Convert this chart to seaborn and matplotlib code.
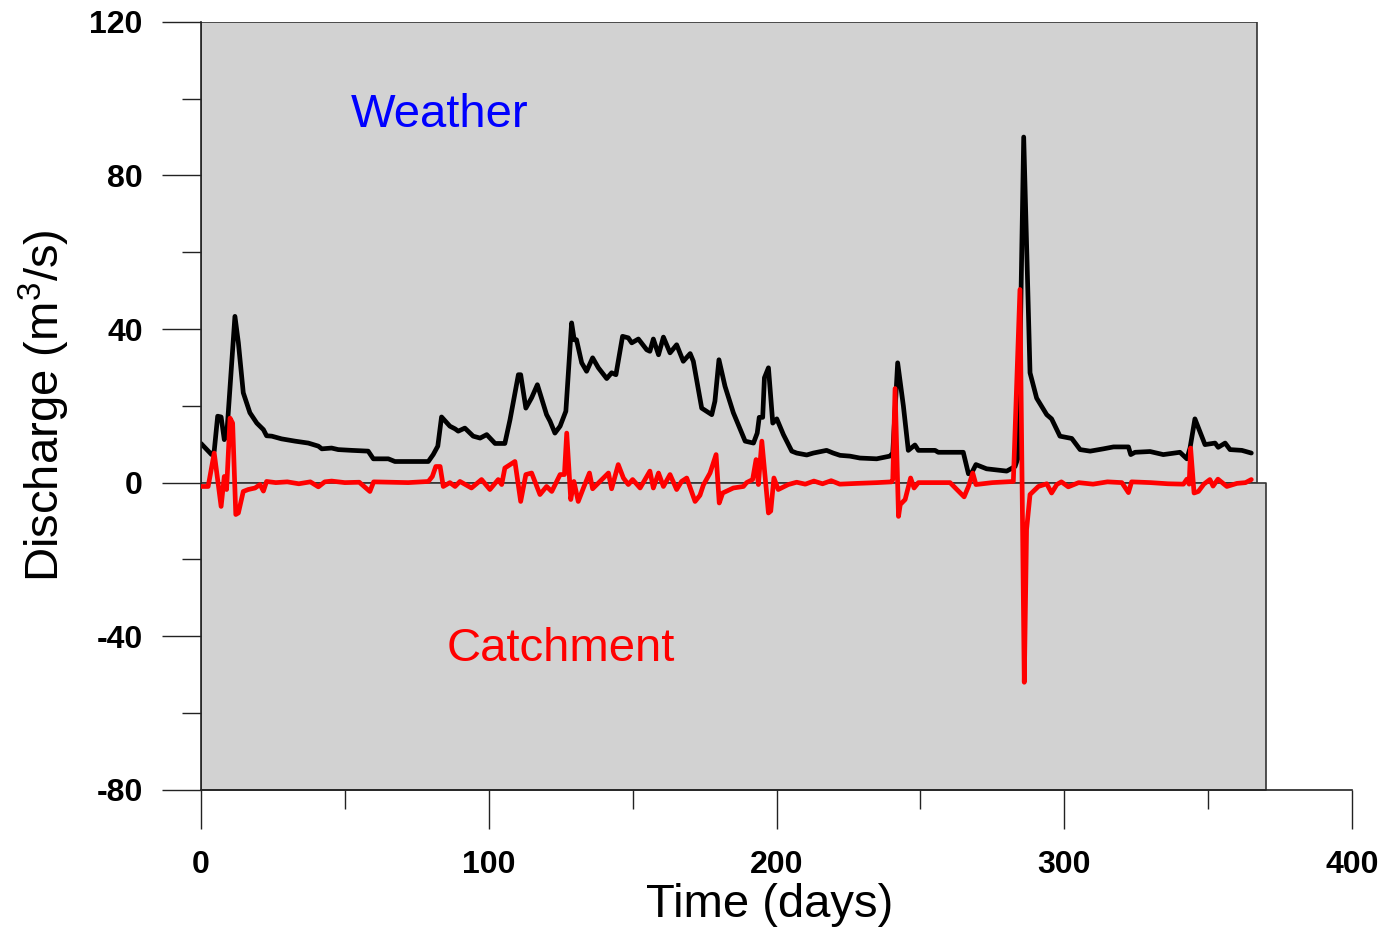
import numpy as np
import pandas as pd
import matplotlib
matplotlib.use("Agg")
import matplotlib.pyplot as plt
import seaborn as sns

# ---------------------------------------------------------------------
# data
# ---------------------------------------------------------------------
weather_day = [0, 3.7, 4.6, 5.8, 7, 8.1, 9, 11.8, 13, 14.7, 17, 19.4, 21.7, 22.8,
               24.6, 28, 32.7, 37.3, 40.8, 42, 45.4, 47.7, 52.4, 58.1, 59.9, 65.1,
               67.4, 79, 80.7, 82.3, 83.6, 86.5, 88.3, 89.4, 91.7, 94.6, 97, 99.3,
               102.2, 105.6, 107.4, 110.3, 111.1, 112.9, 114.9, 116.9, 120.1, 121.3,
               123, 124.8, 126.8, 128.8, 129.7, 130.5, 132.3, 134, 136.1, 138.1, 141,
               142.7, 144.2, 146.5, 148.5, 149.7, 152, 154.9, 156, 157.2, 159, 160.7,
               163, 165.3, 167.6, 170, 171.1, 174, 177.5, 178.6, 180, 182.1, 185,
               189.1, 192, 193.3, 194, 195.2, 195.8, 197.2, 198.7, 200.1, 202.4,
               205.3, 207, 210.5, 212.8, 217.4, 219.7, 222.1, 225.5, 229, 234.8,
               239.4, 240.4, 242.1, 244.1, 245.8, 248.1, 249.3, 255.1, 256.2, 264.9,
               266.7, 267.8, 269.3, 273, 280, 282.9, 284, 285.9, 288.1, 290.4, 293.9,
               295.6, 298.5, 302.6, 305.5, 309, 313.6, 317.1, 322.3, 323.1, 324.6,
               329.8, 334.4, 340.2, 342.6, 343.7, 345.4, 348.9, 352.4, 353.5, 355.9,
               357.6, 361.7, 365]
weather_q = [10.2, 7.3, 8.2, 17.3, 17.1, 11.2, 12.9, 43.3, 36.4, 23.4, 18.2, 15.5, 13.8,
             12.2, 12.1, 11.4, 10.8, 10.3, 9.5, 8.8, 9.0, 8.6, 8.4, 8.2, 6.2, 6.2,
             5.5, 5.5, 7.3, 9.5, 17.1, 14.7, 14.0, 13.4, 14.2, 12.1, 11.6, 12.5,
             10.2, 10.2, 16.4, 28.1, 28.1, 19.4, 22.1, 25.5, 17.7, 16.0,
             12.9, 14.7, 18.6, 41.6, 37.2, 37.2, 31.2, 29.0, 32.5, 29.9, 27.1,
             28.6, 28.1, 38.1, 37.7, 36.4, 37.4, 34.6, 34.2, 37.4, 33.3, 37.9,
             33.8, 35.9, 31.6, 33.6, 31.6, 19.4, 17.7, 21.2, 32.0, 25.1, 18.2,
             10.8, 10.3, 12.9, 17.0, 17.0, 27.3, 29.9, 15.5, 16.6, 12.5,
             8.2, 7.7, 7.2, 7.7, 8.4, 7.7, 7.1, 6.9, 6.4, 6.2,
             6.9, 7.7, 31.2, 19.9, 8.4, 9.8, 8.4, 8.4, 7.9, 7.9,
             2.3, 2.5, 4.7, 3.6, 3.0, 4.2, 6.6, 90.0, 28.6, 22.0, 17.7,
             16.6, 12.1, 11.5, 8.6, 8.2, 8.8, 9.3, 9.3, 7.3, 7.9,
             8.1, 7.3, 7.9, 6.2, 9.0, 16.6, 9.9, 10.3, 9.2, 10.3,
             8.6, 8.4, 7.7]

catchment_day = [0, 2.5, 4.6, 7, 8.1, 8.9, 10.1, 11, 12.1, 13, 14.7, 16.4, 18.8, 20.5,
                 21.7, 22.8, 26, 30, 34, 38, 40.8, 43, 45.4, 50, 55, 58.7, 60, 66, 72,
                 79, 80.4, 81.6, 83.1, 84.2, 86.5, 88.3, 90, 94, 97.5, 100.4, 103.3,
                 104.5, 105.6, 109.1, 111.1, 112.9, 114.9, 117.8, 120.1, 121.9, 124.8,
                 126.3, 127.1, 128.5, 129.6, 131.1, 132.9, 135, 136.1, 138.4, 141.6,
                 142.7, 145, 146.8, 148.5, 150, 152.6, 156, 157.2, 159, 160.7, 163,
                 165.3, 167, 168.8, 171.7, 173.4, 174.6, 176.9, 179, 180.1, 181.3, 185,
                 188.5, 189.6, 191.7, 192.9, 193.7, 194.9, 197.2, 198, 199.1, 200.6,
                 204.1, 207, 210, 213, 216, 219, 222, 228, 235, 240, 240.4, 241.2,
                 242.4, 243, 244.7, 246.6, 247.8, 249.3, 255, 260.3, 265.2, 266.7,
                 268.2, 269.3, 275, 282.3, 284.6, 286.1, 286.9, 288.1, 291, 293.9,
                 295.6, 297.4, 299, 301.4, 305, 310, 315, 320, 322.3, 323.4, 330, 336,
                 341.4, 342.6, 343.4, 343.9, 345.1, 346.6, 348.5, 350.6, 351.7, 353.4,
                 356.5, 360, 363, 365]
catchment_q = [-1, -1, 7.7, -6.2, 1.6, -1.8, 16.8, 15.5, -8.3, -7.9, -2.3, -1.8, -1.4, -0.5,
               -2.2, 0.3, 0, 0.2, -0.3, 0.2, -1.1, 0.2, 0.4, 0, 0.1, -2.3, 0.2, 0.1, 0,
               0.3, 1.6, 4.2, 4.2, -1, 0, -1, 0.3, -1.4, 0.8, -1.8, 0.8,
               -0.5, 3.8, 5.5, -4.9, 2.1, 2.5, -3.1, -1, -2.3, 2.1,
               2.1, 12.9, -4.4, 0.3, -4.9, -1.4, 2.5, -1.6, 0.1, 2.5,
               -1.6, 4.7, 1.2, -0.5, 0.8, -1.4, 3.0, -1.4, 2.5, -1, 2.1,
               -1.8, 0.3, 1.2, -4.9, -3.3, -0.6, 2.5, 7.3, -5.3, -2.7, -1.4,
               -1, 0, 0.8, 6, -0.5, 10.8, -7.9, -7.4, 1.2, -1.8,
               -0.5, 0.1, -0.4, 0.4, -0.3, 0.5, -0.4, -0.2, 0, 0.2, 0.8, 24.5,
               -8.8, -5.7, -4.4, 1.2, -1.4, 0, 0, 0, -3.7, -1,
               2.5, -0.5, 0, 0.3, 50.3, -52, -12.2, -3.1, -1, -0.3,
               -2.7, -0.5, 0.2, -1.1, 0, -0.4, 0.2, 0, -2.6, 0.2, 0, -0.3,
               -0.4, 0.9, -0.4, 9, -2.7, -2.3, -0.4, 0.8, -0.9, 0.9,
               -1, -0.2, 0, 0.8]

# shaded regions (day span, discharge span)
weather_span = [0, 367]
weather_band = [0, 120]
catchment_span = [0, 370]
catchment_band = [-80, 0]

df_w = pd.DataFrame({"day": weather_day, "q": weather_q})
df_c = pd.DataFrame({"day": catchment_day, "q": catchment_q})

# ---------------------------------------------------------------------
# plot
# ---------------------------------------------------------------------
sns.set_style("ticks")
plt.rcParams["font.family"] = ["Liberation Sans", "DejaVu Sans"]
plt.rcParams["mathtext.default"] = "regular"
plt.rcParams["axes.unicode_minus"] = False
plt.rcParams["text.color"] = "black"
plt.rcParams["axes.labelcolor"] = "black"
plt.rcParams["xtick.color"] = "black"
plt.rcParams["ytick.color"] = "black"

fig = plt.figure(figsize=(13.86, 9.38), dpi=100)
ax = fig.add_axes([0.145, 0.158, 0.8305, 0.8187])

ax.fill_between(weather_span, weather_band[0], weather_band[1],
                facecolor="#d2d2d2", edgecolor="#333333", linewidth=1.2, zorder=0)
ax.fill_between(catchment_span, catchment_band[0], catchment_band[1],
                facecolor="#d2d2d2", edgecolor="#333333", linewidth=1.2, zorder=0)

sns.lineplot(data=df_w, x="day", y="q", ax=ax, color="black", linewidth=3.4,
             estimator=None, sort=False, zorder=2)
sns.lineplot(data=df_c, x="day", y="q", ax=ax, color="#ff0000", linewidth=3.4,
             estimator=None, sort=False, zorder=3)

ax.text(83, 95.8, "Weather", color="#0000ff", fontsize=34, ha="center", va="center")
ax.text(125, -43.3, "Catchment", color="#ff0000", fontsize=34, ha="center", va="center")

ax.set_xlim(0, 400)
ax.set_ylim(-80, 120)
ax.set_xticks([0, 100, 200, 300, 400])
ax.set_xticks([50, 150, 250, 350], minor=True)
ax.set_yticks([-80, -40, 0, 40, 80, 120])
ax.set_yticks([-60, -20, 20, 60, 100], minor=True)

for side in ["top", "right"]:
    ax.spines[side].set_visible(False)
for side in ["left", "bottom"]:
    ax.spines[side].set_color("#222222")
    ax.spines[side].set_linewidth(1.2)

ax.tick_params(which="major", length=28, width=1, color="#222222",
               labelsize=23, pad=14, labelcolor="black")
ax.tick_params(axis="x", which="major", pad=15)
ax.tick_params(which="minor", length=14, width=1, color="#222222")
for lab in ax.get_xticklabels() + ax.get_yticklabels():
    lab.set_fontweight("bold")

ax.set_xlabel("Time (days)", fontsize=34, color="black")
ax.set_ylabel("Discharge (m$^3$/s)", fontsize=34, color="black")
ax.xaxis.set_label_coords(0.494, -0.122)
ax.yaxis.set_label_coords(-0.112, 0.5)

fig.savefig("out.png", dpi=100)
